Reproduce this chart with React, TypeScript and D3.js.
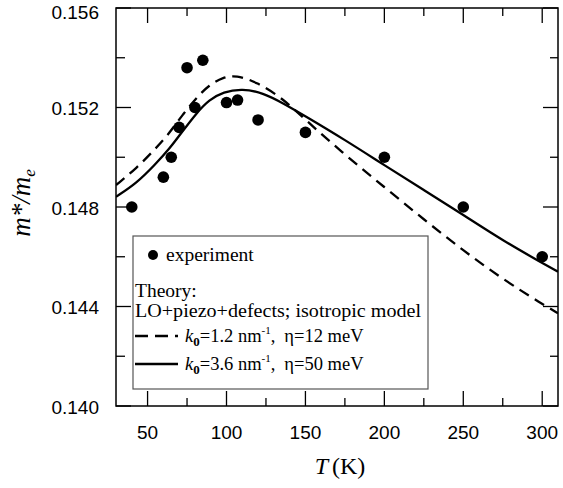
import * as React from 'react'
import * as d3 from 'd3'

// experiment
const expT = [40, 60, 65, 70, 75, 80, 85, 100, 107, 120, 150, 200, 250, 300]
const expM = [0.148, 0.1492, 0.15, 0.1512, 0.1536, 0.152, 0.1539, 0.1522, 0.1523, 0.1515, 0.151, 0.15, 0.148, 0.146]

// theory, k0 = 1.2 nm^-1, eta = 12 meV (dashed)
const dashT = [30, 43, 55, 64, 72, 81, 89, 98, 106, 119, 136, 150, 175, 200, 225, 250, 275, 300, 310]
const dashM = [0.14888, 0.14956, 0.15034, 0.15098, 0.1517, 0.15239, 0.15291, 0.15322, 0.1533, 0.15303, 0.15235, 0.1515, 0.1501, 0.1488, 0.1475, 0.14625, 0.1451, 0.1441, 0.14373]

// theory, k0 = 3.6 nm^-1, eta = 50 meV (solid)
const solidT = [30, 43, 55, 64, 72, 81, 89, 98, 110, 123, 136, 150, 175, 200, 225, 250, 275, 300, 310]
const solidM = [0.14841, 0.14895, 0.14972, 0.15035, 0.15103, 0.15178, 0.15231, 0.15263, 0.15276, 0.15259, 0.15217, 0.15165, 0.1507, 0.14968, 0.14868, 0.14768, 0.14665, 0.14575, 0.1454]

const yLabels = [0.156, 0.152, 0.148, 0.144, 0.14]
const yMinor = [0.154, 0.15, 0.146, 0.142]
const xLabels = [50, 100, 150, 200, 250, 300]
const xMinor = [75, 125, 175, 225, 275]

const W = 563
const H = 488
const x = d3.scaleLinear().domain([30, 310]).range([116, 558])
const y = d3.scaleLinear().domain([0.14, 0.156]).range([406, 8])

const sans = '"Liberation Sans", Arial, sans-serif'
const serif = '"Liberation Serif", "Times New Roman", serif'

function App() {
  const line = d3
    .line<[number, number]>()
    .x((d) => x(d[0]))
    .y((d) => y(d[1]))
    .curve(d3.curveBasis)

  const dashPath = line(dashT.map((t, i) => [t, dashM[i]]))
  const solidPath = line(solidT.map((t, i) => [t, solidM[i]]))

  const [x0, x1] = x.range()
  const [y0, y1] = y.range()

  return (
    <svg width={W} height={H} style={{ position: 'absolute', left: 0, top: 0, background: '#fff' }}>
      <defs>
        <clipPath id="plot">
          <rect x={x0} y={y1} width={x1 - x0} height={y0 - y1} />
        </clipPath>
      </defs>

      {/* ticks */}
      <g stroke="#000" strokeWidth={1.3}>
        {xLabels.map((t) => (
          <g key={'xl' + t}>
            <line x1={x(t)} x2={x(t)} y1={y0} y2={y0 - 15} />
            <line x1={x(t)} x2={x(t)} y1={y1} y2={y1 + 15} />
          </g>
        ))}
        {xMinor.map((t) => (
          <g key={'xm' + t}>
            <line x1={x(t)} x2={x(t)} y1={y0} y2={y0 - 8} />
            <line x1={x(t)} x2={x(t)} y1={y1} y2={y1 + 8} />
          </g>
        ))}
        {yLabels.map((v) => (
          <g key={'yl' + v}>
            <line x1={x0} x2={x0 + 15} y1={y(v)} y2={y(v)} />
            <line x1={x1} x2={x1 - 15} y1={y(v)} y2={y(v)} />
          </g>
        ))}
        {yMinor.map((v) => (
          <g key={'ym' + v}>
            <line x1={x0} x2={x0 + 9} y1={y(v)} y2={y(v)} />
            <line x1={x1} x2={x1 - 8} y1={y(v)} y2={y(v)} />
          </g>
        ))}
      </g>

      {/* curves */}
      <g clipPath="url(#plot)" fill="none" stroke="#000" strokeWidth={2.3}>
        <path d={dashPath ?? ''} strokeDasharray="11,7" />
        <path d={solidPath ?? ''} />
      </g>

      {/* experiment */}
      <g fill="#000">
        {expT.map((t, i) => (
          <circle key={t} cx={x(t)} cy={y(expM[i])} r={5.8} />
        ))}
      </g>

      {/* frame */}
      <rect x={x0} y={y1} width={x1 - x0} height={y0 - y1} fill="none" stroke="#000" strokeWidth={1.5} />

      {/* tick labels */}
      <g fontFamily={sans} fontSize={19} fill="#000">
        {yLabels.map((v, i) => (
          <text key={v} x={x0 - 17} y={y(v) + (i === 0 ? 4 : 1)} dy="0.36em" textAnchor="end">
            {v.toFixed(3)}
          </text>
        ))}
        {xLabels.map((t) => (
          <text key={t} x={x(t)} y={y0 + 33} textAnchor="middle">
            {t}
          </text>
        ))}
      </g>

      {/* axis titles */}
      <text x={340} y={474} textAnchor="middle" fontFamily={serif} fontSize={24}>
        <tspan fontStyle="italic">T</tspan>
        <tspan dx={4}>(K)</tspan>
      </text>
      <text
        transform="translate(30,203) rotate(-90)"
        textAnchor="middle"
        fontFamily={serif}
        fontSize={27}
        fontStyle="italic"
      >
        m*/m<tspan fontSize={17} dy={5}>e</tspan>
      </text>

      {/* legend */}
      <g fontFamily={serif} fontSize={19.5} fill="#000">
        <rect x={133} y={236} width={295} height={153} fill="#fff" stroke="#555" strokeWidth={1.2} />
        <circle cx={153} cy={255} r={5} />
        <text x={166} y={261}>experiment</text>
        <text x={135} y={297}>Theory:</text>
        <text x={135} y={317} textLength={286} lengthAdjust="spacingAndGlyphs">
          LO+piezo+defects; isotropic model
        </text>
        <line x1={135} x2={178} y1={336} y2={336} stroke="#000" strokeWidth={2.3} strokeDasharray="13,7" />
        <text x={185} y={342} fontSize={18.5}>
          <tspan fontStyle="italic">k</tspan>
          <tspan fontSize={13} dy={4} fontWeight="bold">0</tspan>
          <tspan dy={-4}>=1.2 nm</tspan>
          <tspan fontSize={11} dy={-8}>-1</tspan>
          <tspan dy={8}>,</tspan>
          <tspan dx={9}>η=12 meV</tspan>
        </text>
        <line x1={135} x2={178} y1={364} y2={364} stroke="#000" strokeWidth={2.3} />
        <text x={185} y={370} fontSize={18.5}>
          <tspan fontStyle="italic">k</tspan>
          <tspan fontSize={13} dy={4} fontWeight="bold">0</tspan>
          <tspan dy={-4}>=3.6 nm</tspan>
          <tspan fontSize={11} dy={-8}>-1</tspan>
          <tspan dy={8}>,</tspan>
          <tspan dx={9}>η=50 meV</tspan>
        </text>
      </g>
    </svg>
  )
}

export default App
